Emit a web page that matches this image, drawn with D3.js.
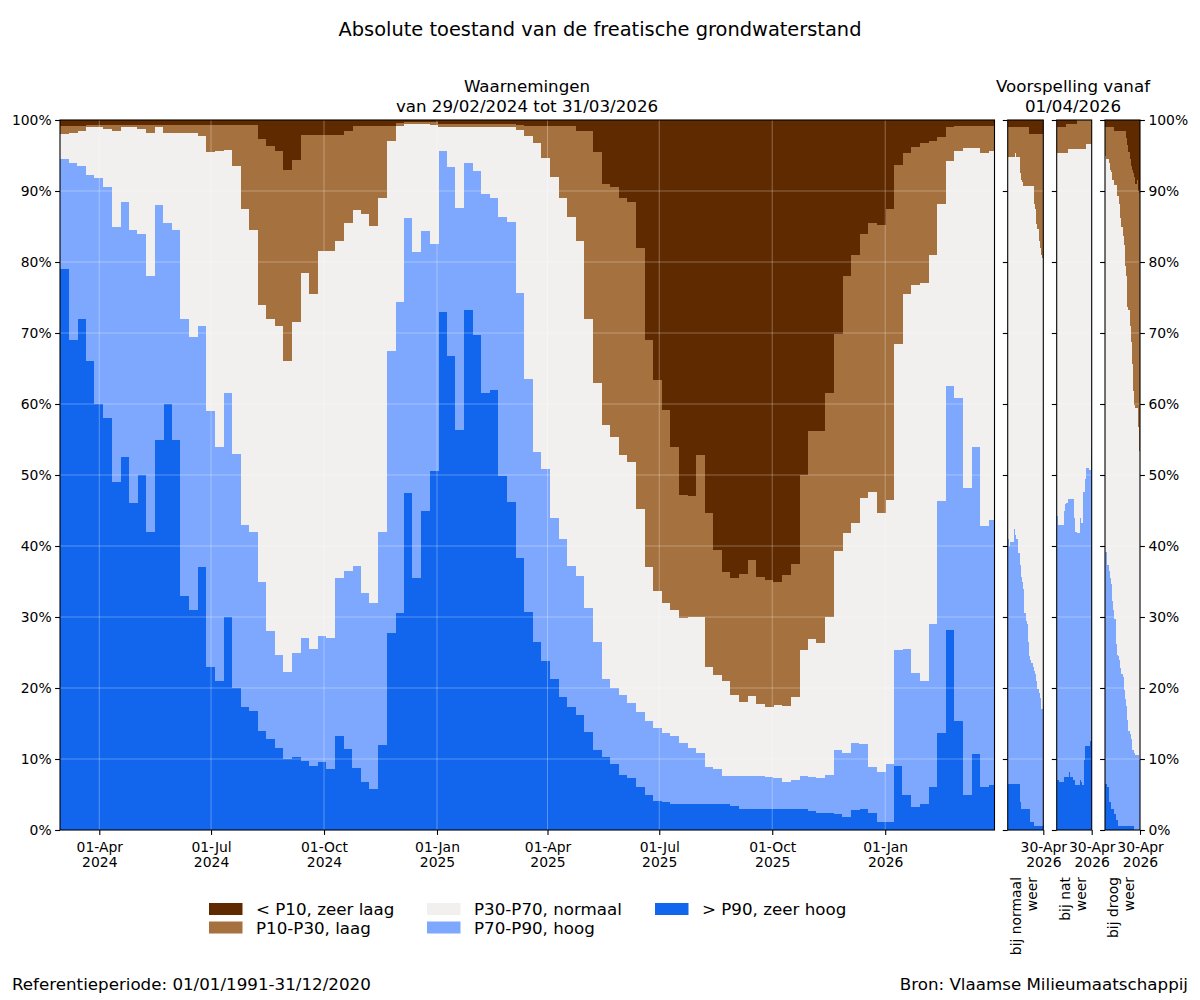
<!DOCTYPE html>
<html>
<head>
<meta charset="utf-8">
<script src="https://cdn.jsdelivr.net/npm/d3@7/dist/d3.min.js"></script>
<style>
  body { margin: 0; background: #fff; }
  text { font-family: "DejaVu Sans", sans-serif; }
</style>
</head>
<body>
<svg id="chart" width="1200" height="1000"></svg>
<script>
// klassen, van onder naar boven gestapeld
var klassen = ["> P90, zeer hoog", "P70-P90, hoog", "P30-P70, normaal", "P10-P30, laag", "< P10, zeer laag"];
var kleuren = ["#1266ee", "#7ea8fe", "#f2f0ef", "#a5713e", "#602a00"];

var startWaarneming = "2024-02-29";
var eindWaarneming = "2026-03-31";
var startVoorspelling = "2026-03-31";
var eindVoorspelling = "2026-04-30";
var dagenPerBalk = 7;

// aandeel meetpunten per klasse (%), per week vanaf 29/02/2024
// [> P90, P70-P90, P30-P70, P10-P30, < P10]
var waarnemingen = [
  [79,15.5,3.5,1.2,0.8],[69,25,4.2,1,0.8],[72,21.5,5,0.7,0.8],[66,26.2,6.8,0.3,0.7],
  [60,31.8,7.2,0.3,0.7],[58,32.5,8.3,0.5,0.7],[49,36,13.5,0.8,0.7],[52.5,36,10.5,0.3,0.7],
  [46,38.5,14.5,0.3,0.7],[50,34,14.8,0.5,0.7],[42,36,20.2,1.1,0.7],[55,33,11,0.3,0.7],
  [60,25.5,12.7,1.1,0.7],[55,29.5,13.7,1.1,0.7],[33,39,26.2,1.1,0.7],[31,38.5,28.7,1.1,0.7],
  [37,34,26.8,1.5,0.7],[23,36,36.5,3.8,0.7],[21,33,41.6,3.7,0.7],[30,31.5,34.3,3.5,0.7],
  [20,33,40.5,5.8,0.7],[17.3,25.7,44.5,11.8,0.7],[16.8,25.2,42.5,14.8,0.7],[14,21,39,23.3,2.7],
  [12.8,15.2,44,24.3,3.7],[11.5,13.1,46.4,24.7,4.3],[10,12.2,43.8,27,7],[10.3,14.7,46.5,22.8,5.7],
  [9.7,17.3,51.5,19.4,2.1],[9,16.5,50,22.4,2.1],[9.6,17.7,54.2,16.4,2.1],[8.6,18.4,54.5,16.4,2.1],
  [13.2,22.3,47.5,14.9,2.1],[11.4,25.1,49,13,1.5],[8.8,28.4,50.1,11.9,0.8],[6.8,26.6,53.4,12.4,0.8],
  [5.8,26.2,53.1,14.1,0.8],[12,30,47,10.2,0.8],[27.8,39.7,29.5,2.2,0.8],[30.5,43.8,24.8,0.5,0.4],
  [47.4,38.8,13.3,0.2,0.3],[35.5,45.9,18.1,0.2,0.3],[45,39.4,15.1,0.2,0.3],[50.5,32.1,16.7,0.4,0.3],
  [73,22.6,3.4,0.5,0.5],[66.7,26.7,5.6,0.5,0.5],[56.3,31.3,11.4,0.5,0.5],[73.2,20.7,5.1,0.5,0.5],
  [69.7,23.1,6.2,0.5,0.5],[61.5,28.1,9.4,0.5,0.5],[62,27,10,0.5,0.5],[49.8,36.6,12.6,0.5,0.5],
  [46.2,39.4,13.4,0.5,0.5],[38.3,37.4,22.9,0.7,0.7],[30.7,32.8,34.3,1.4,0.8],[26.5,26.8,43.5,2.4,0.8],
  [23.8,27,43.8,4.5,0.9],[21.2,22.8,48,7.1,0.9],[18.8,22.2,48,10.1,0.9],[17.3,19.9,49.1,12.8,0.9],
  [16.2,19.6,47.2,15.4,1.6],[13.8,17.4,40.8,26.4,1.6],[11.3,15.2,36.5,32.5,4.5],[10.3,10.9,35.8,34,9],
  [9.3,10.7,35.3,35.2,9.5],[7.8,11.2,33.8,36.2,11],[7.3,10.6,33.9,36.7,11.5],[6,10.6,28.6,36.8,18],
  [4.9,10.4,21.7,32,31],[4.1,10.3,19.3,29.7,36.6],[4,9.7,18.3,27.2,40.8],[3.6,9.7,17.7,23,46],
  [3.6,8.7,17.5,17.4,52.8],[3.6,7.9,18.5,17,53],[3.6,7.2,19.2,22.8,47.2],[3.6,5.3,14.1,21.7,55.3],
  [3.6,5,13.2,17.7,60.5],[3.6,4,13.4,15.4,63.6],[3.4,4.2,11.4,16.5,64.5],[3,4.6,10.4,18,64],
  [3,4.6,11.3,19.1,62],[3,4.6,10.2,17.8,64.4],[3,4.4,9.9,17.9,64.8],[3,4.3,10.3,17.4,65],
  [3,3.8,10.7,18.4,64.1],[3,4,11.8,18.7,62.5],[2.9,4.7,17.7,24.7,50],[2.7,4.7,19.5,29.3,43.8],
  [2.4,4.9,19.1,29.8,43.8],[2.4,5.4,22.2,31.5,38.5],[2.3,9,28,30.6,30.1],[1.9,9,31,36.1,22],
  [2.8,9.5,31,37.7,19],[3,9.1,34.7,37.1,16.1],[2.4,6.5,38.7,37.9,14.5],[1.1,7.1,36.5,40.5,14.8],
  [1.1,8.2,37.2,40.9,12.6],[9,16.4,43,25.2,6.4],[5,20.5,50,19.9,4.6],[3.2,18.9,54.6,19.5,3.8],
  [3.6,17.4,56,19.7,3.3],[6,23,52,16,3],[13.6,32.7,41.8,9.5,2.4],[28.1,34.5,31.6,4.8,1],
  [15.4,45.4,34.8,3.5,0.9],[4.9,43.3,47.8,3.1,0.9],[10.7,43.3,42,3.1,0.9],[6.1,36.7,52.6,3.7,0.9],
  [6.4,37.3,51.9,3.5,0.9]
];

// voorspelling per dag, 01/04/2026 - 30/04/2026
var weerNormaal = [
  [6.5,34.5,53.8,4.2,1],[6.5,33.5,54.8,4.2,1],[6.5,34.1,54.2,4.2,1],[6.5,34.1,54.2,4.2,1],
  [6.5,34.1,54.2,4.2,1],[6.5,35.9,52.4,4.2,1],[6.5,35,53.9,3.6,1],[6.5,34.5,53.8,4.2,1],
  [6.5,34.5,53.8,4.2,1],[6.5,32.5,55.8,4.2,1],[4,33.3,55.2,6.5,1],[3,32.6,55.9,7.5,1],
  [3,32,56.2,7.8,1],[3,31,56.7,8.3,1],[3,27.5,60.2,8.3,1],[3,26.5,61.2,8.3,1],
  [3,26,61.7,8.3,1],[3,23.5,64.2,8.3,1],[3,21.5,66.2,7.3,2],[1.1,22.9,66.7,7.3,2],
  [1.1,22.4,67.2,7.3,2],[1.1,21.9,67.7,7.3,2],[0.6,21.8,65.7,9.9,2],[0.6,21.4,65.4,10.6,2],
  [0.6,20.4,64.3,12.7,2],[0.6,19.2,64.8,13.4,2],[0.6,18.7,63.7,15,2],[0.6,18,63.4,16,2],
  [0.6,16.4,64,17,2],[0.6,16.8,63.1,17.5,2]
];
var weerNat = [
  [7.1,37.1,51.2,3.6,1],[7.1,35.9,52.4,3.6,1],[6.7,36.3,52.4,3.6,1],[7.1,36.5,51.8,3.6,1],
  [6.7,36.3,52.4,3.6,1],[6.7,36.3,52.4,3.6,1],[7.5,37.5,50.4,3.6,1],[7.5,38.4,49.5,3.6,1],
  [7.5,38.5,49.4,4.1,0.5],[7.5,39.1,49.3,3.6,0.5],[8.1,38.5,49.3,3.6,0.5],[7.5,39.1,49.3,3.6,0.5],
  [7.5,39.1,49.3,3.6,0.5],[7.5,39.1,49.3,3.6,0.5],[7.1,39.5,49.3,3.6,0.5],[7.1,36.9,51.9,3.6,0.5],
  [6.3,35.7,53.9,3.6,0.5],[6.3,35.6,54,4.1,0],[6.3,35.6,54,4.1,0],[6.3,35.6,54,4.1,0],
  [7,37,51.9,4.1,0],[6.7,36.6,52.6,4.1,0],[6.3,41.3,48.3,4.1,0],[9.9,37.7,48.3,4.1,0],
  [11.9,37.6,46.4,4.1,0],[11.9,39.1,45.6,3.4,0],[11.9,39.1,45.6,3.4,0],[11.9,41.1,43.6,3.4,0],
  [12.5,38.2,45.9,3.4,0],[12.5,41.1,43,3.4,0]
];
var weerDroog = [
  [6.5,32.7,55.8,4,1],[6.5,34.6,53.4,4.5,1],[6,31.3,57.2,4.5,1],[4,32.5,57.4,5.1,1],
  [4,31.5,57.5,6,1],[3,31.6,58.1,6.3,1],[3,29.3,59.3,7.4,1],[3,28,60.6,7.4,1],
  [2.3,27.4,61.1,7.7,1.5],[1.4,24.8,64.6,7.7,1.5],[1.4,23.3,64.6,9.2,1.5],[0.6,23.9,64.8,9.2,1.5],
  [0.6,23.3,64.2,10.4,1.5],[0.6,22.2,63.4,12.3,1.5],[0.6,21.4,63,13.5,1.5],[0.6,21,62,14.9,1.5],
  [0.6,19.1,62.7,16.1,1.5],[0.6,17.9,60.9,19.1,1.5],[0.6,16.8,60.6,19.5,2.5],[0.6,14.9,58.1,22.9,3.5],
  [0.6,13.4,59.2,22.3,4.5],[0.6,12.9,57.5,23.5,5.5],[0.6,12.2,55.9,24.8,6.5],[0.6,10.7,54.3,27.4,7],
  [0.6,10.7,50.5,30.7,7.5],[0,10.9,49,32.1,8],[0,10.6,48.9,31.5,9],[0,10.6,48.9,32,8.5],
  [0,10.6,46.2,33.2,10],[0,9.8,43.6,36.3,10.3]
];
var scenarioLabels = [["bij normaal", "weer"], ["bij nat", "weer"], ["bij droog", "weer"]];
var yTicks = [0, 0.1, 0.2, 0.3, 0.4, 0.5, 0.6, 0.7, 0.8, 0.9, 1];

var svg = d3.select("#chart");
var plotTop = 120, plotBottom = 830;
var fs10 = 13.9, fs12 = 16.7, fs14 = 19.4;
var tickLen = 4.9;

var parse = d3.utcParse("%Y-%m-%d");
var y = d3.scaleLinear().domain([0, 1]).range([plotBottom, plotTop]);
var stack = d3.stack().keys(d3.range(klassen.length)).offset(d3.stackOffsetExpand);
var pct = d3.format(".0%");

function styleAxis(g) {
  g.select(".domain").remove();
  g.selectAll(".tick line").attr("stroke", "#000").attr("stroke-width", 1.1);
  g.selectAll(".tick text").attr("fill", "#000").style("font-size", fs10 + "px")
    .style("font-family", "DejaVu Sans");
}

function drawBars(g, rows, x0, x1) {
  var series = stack(rows);
  g.selectAll("g.laag").data(series).join("g")
    .attr("class", "laag")
    .attr("fill", function(s, i) { return kleuren[i]; })
    .selectAll("rect").data(function(s) { return s; }).join("rect")
      .attr("shape-rendering", "crispEdges")
      .attr("x", function(p, j) { return x0(j); })
      .attr("width", function(p, j) { return Math.max(0, x1(j) - x0(j)) + 0.4; })
      .attr("y", function(p) { return y(p[1]); })
      .attr("height", function(p) { return Math.max(0, y(p[0]) - y(p[1])); });
}

function twoLineLabels(g, fmt1, fmt2) {
  g.selectAll(".tick text").each(function(d) {
    var t = d3.select(this).text(null);
    t.append("tspan").attr("x", 0).attr("dy", "0.71em").text(fmt1(d));
    t.append("tspan").attr("x", 0).attr("dy", "1.1em").text(fmt2(d));
  });
}

// ---------- hoofdgrafiek: waarnemingen ----------
var tStart = parse(startWaarneming), tEind = parse(eindWaarneming);
var xMain = d3.scaleUtc().domain([tStart, tEind]).range([60, 994.5]);
var main = svg.append("g");

main.append("clipPath").attr("id", "clipMain").append("rect")
  .attr("x", 60).attr("y", plotTop).attr("width", 934.5).attr("height", plotBottom - plotTop);

var barsMain = main.append("g").attr("clip-path", "url(#clipMain)");
drawBars(barsMain, waarnemingen,
  function(j) { return xMain(d3.utcDay.offset(tStart, j * dagenPerBalk)); },
  function(j) {
    var e = d3.utcDay.offset(tStart, (j + 1) * dagenPerBalk);
    return xMain(e > tEind ? tEind : e);
  });

var xTicksMain = d3.utcMonth.every(3).range(tStart, tEind);

// rasterlijnen
var grid = main.append("g").attr("stroke", "rgba(255,255,255,0.3)").attr("stroke-width", 1);
grid.selectAll("line.h").data(yTicks.slice(1, -1)).join("line").attr("class", "h")
  .attr("x1", 60).attr("x2", 994.5)
  .attr("y1", function(d) { return y(d); }).attr("y2", function(d) { return y(d); });
grid.selectAll("line.v").data(xTicksMain).join("line").attr("class", "v")
  .attr("y1", plotTop).attr("y2", plotBottom)
  .attr("x1", function(d) { return xMain(d); }).attr("x2", function(d) { return xMain(d); });

main.append("g").attr("transform", "translate(60,0)")
  .call(d3.axisLeft(y).tickValues(yTicks).tickFormat(pct).tickSize(tickLen).tickPadding(3.5))
  .call(styleAxis);

main.append("g").attr("transform", "translate(0," + plotBottom + ")")
  .call(d3.axisBottom(xMain).tickValues(xTicksMain).tickSize(tickLen).tickPadding(7))
  .call(styleAxis)
  .call(twoLineLabels, d3.utcFormat("%d-%b"), d3.utcFormat("%Y"));

main.append("rect").attr("x", 60).attr("y", plotTop).attr("width", 934.5)
  .attr("height", plotBottom - plotTop).attr("fill", "none")
  .attr("stroke", "#000").attr("stroke-width", 1.1);

// ---------- voorspellingen ----------
var vStart = parse(startVoorspelling), vEind = parse(eindVoorspelling);
var panelen = [
  { rows: weerNormaal, left: 1007.7, right: 1043.3 },
  { rows: weerNat, left: 1056.7, right: 1091.7 },
  { rows: weerDroog, left: 1105, right: 1140 }
];

panelen.forEach(function(p, i) {
  var x = d3.scaleUtc().domain([vStart, vEind]).range([p.left, p.right]);
  var g = svg.append("g");
  var w = p.right - p.left;
  g.append("clipPath").attr("id", "clipP" + i).append("rect")
    .attr("x", p.left).attr("y", plotTop).attr("width", w).attr("height", plotBottom - plotTop);
  var bars = g.append("g").attr("clip-path", "url(#clipP" + i + ")");
  drawBars(bars, p.rows,
    function(j) { return x(d3.utcDay.offset(vStart, j)); },
    function(j) { return x(d3.utcDay.offset(vStart, j + 1)); });

  g.append("g").attr("stroke", "rgba(255,255,255,0.3)")
    .selectAll("line").data(yTicks.slice(1, -1)).join("line")
    .attr("x1", p.left).attr("x2", p.right)
    .attr("y1", function(d) { return y(d); }).attr("y2", function(d) { return y(d); });

  g.append("g").attr("transform", "translate(" + p.left + ",0)")
    .call(d3.axisLeft(y).tickValues(yTicks).tickFormat("").tickSize(tickLen))
    .call(styleAxis);
  if (i === panelen.length - 1) {
    g.append("g").attr("transform", "translate(" + p.right + ",0)")
      .call(d3.axisRight(y).tickValues(yTicks).tickFormat(pct).tickSize(tickLen).tickPadding(3.5))
      .call(styleAxis);
  }
  g.append("g").attr("transform", "translate(0," + plotBottom + ")")
    .call(d3.axisBottom(x).tickValues([vEind]).tickSize(tickLen).tickPadding(7))
    .call(styleAxis)
    .call(twoLineLabels, d3.utcFormat("%d-%b"), d3.utcFormat("%Y"));

  g.append("rect").attr("x", p.left).attr("y", plotTop).attr("width", w)
    .attr("height", plotBottom - plotTop).attr("fill", "none")
    .attr("stroke", "#000").attr("stroke-width", 1.1);

  var cx = (p.left + p.right) / 2 - 4.7;
  var lbl = g.append("text")
    .attr("transform", "translate(" + cx + ",877) rotate(-90)")
    .attr("text-anchor", "end").style("font-size", fs10 + "px");
  scenarioLabels[i].forEach(function(s, k) {
    lbl.append("tspan").attr("x", 0).attr("dy", k ? "1.2em" : 0).text(s);
  });
});

// ---------- titels ----------
svg.append("text").attr("x", 600).attr("y", 36).attr("text-anchor", "middle")
  .style("font-size", fs14 + "px").text("Absolute toestand van de freatische grondwaterstand");

var sub1 = svg.append("text").attr("x", 527).attr("y", 92).attr("text-anchor", "middle")
  .style("font-size", fs12 + "px");
sub1.append("tspan").attr("x", 527).text("Waarnemingen");
sub1.append("tspan").attr("x", 527).attr("dy", 20).text("van 29/02/2024 tot 31/03/2026");

var sub2 = svg.append("text").attr("x", 1073).attr("y", 92).attr("text-anchor", "middle")
  .style("font-size", fs12 + "px");
sub2.append("tspan").attr("x", 1073).text("Voorspelling vanaf");
sub2.append("tspan").attr("x", 1073).attr("dy", 20).text("01/04/2026");

// ---------- legende ----------
var legendeVolgorde = [4, 3, 2, 1, 0];
var kolomX = [209, 427, 655];
var legende = svg.append("g");
legendeVolgorde.forEach(function(k, n) {
  var col = Math.floor(n / 2), row = n % 2;
  var lx = kolomX[col], ly = 909 + row * 18.5;
  legende.append("rect").attr("x", lx).attr("y", ly - 6).attr("width", 33.5).attr("height", 12)
    .attr("fill", kleuren[k]);
  legende.append("text").attr("x", lx + 47).attr("y", ly + 6)
    .style("font-size", fs12 + "px").text(klassen[k]);
});

// ---------- voetnoten ----------
svg.append("text").attr("x", 12).attr("y", 990).style("font-size", fs12 + "px")
  .text("Referentieperiode: 01/01/1991-31/12/2020");
svg.append("text").attr("x", 1188).attr("y", 990).attr("text-anchor", "end")
  .style("font-size", fs12 + "px").text("Bron: Vlaamse Milieumaatschappij");
</script>
</body>
</html>
